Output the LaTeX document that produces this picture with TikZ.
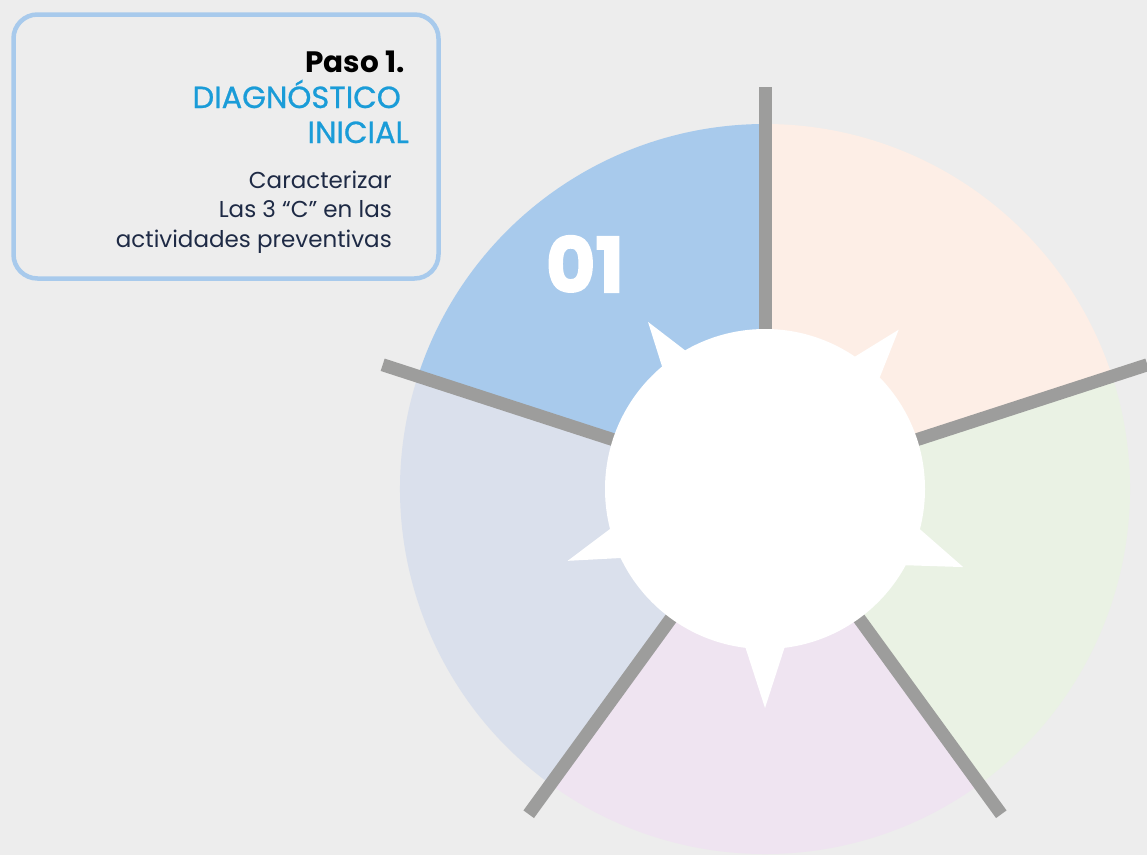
\documentclass[tikz,border=0pt]{standalone}
\usepackage{fontspec}
\setmainfont{Poppins}
\newfontfamily\medfont{Poppins}[FakeBold=0.8]
\newfontfamily\blackfont{Poppins}[FakeBold=2.2,BoldFont={Poppins Bold}]
\usepackage{xcolor}
\usepackage{tikz}
\usetikzlibrary{calc,positioning}

\begin{document}
\begin{tikzpicture}[x=1pt,y=1pt,
  sep line/.style={line width=13pt,draw=sepgray},
  caja/.style={draw=boxblue,line width=4.5pt,rounded corners=24pt},
  txt/.style={inner sep=0pt,anchor=base east}]
  \definecolor{bg}{HTML}{EDEDED}
  \definecolor{boxblue}{HTML}{A8CAEC}
  \definecolor{sepgray}{HTML}{9D9D9C}
  \definecolor{titblue}{HTML}{1A9CD8}
  \definecolor{dark}{HTML}{1E2A45}
  \colorlet{secA}{boxblue}
  \definecolor{secB}{HTML}{DAE0EC}
  \definecolor{secC}{HTML}{EFE4F1}
  \definecolor{secD}{HTML}{EAF2E4}
  \definecolor{secE}{HTML}{FDEEE6}
  \def\R{365}
  \coordinate (O) at (765,-489);
  % fondo
  \fill[bg] (0,0) rectangle (1147,-855);
  \useasboundingbox (0,0) rectangle (1147,-855);
  % sectores del circulo
  \foreach \a/\c in {90/secA,162/secB,234/secC,306/secD,18/secE}{
      \fill[\c] (O) -- ($(O)+(\a:\R)$) arc[start angle=\a,delta angle=72,radius=\R] -- cycle;
    }
  % separadores
  \foreach \a in {90,162,234,306,18}{
      \draw[sep line] ($(O)+(\a:150)$) -- ($(O)+(\a:402)$);
    }
  % centro blanco con puntas
  \node (centro) [circle,fill=white,minimum size=320pt,inner sep=0pt] at (O) {};
  \foreach \a/\w/\r in {125/5.5/204,50/6.3/208,-21.5/7.5/213,-90/7.5/219,200/6/210}{
      \fill[white] ($(O)+({\a-\w}:157)$) -- ($(O)+(\a:\r)$) -- ($(O)+({\a+\w}:157)$) -- cycle;
    }
  \node (num) [text=white,inner sep=0pt] at (585,-264) {\fontsize{76}{76}\selectfont\blackfont\bfseries 01};
  % recuadro del paso
  \draw[caja] (13.5,-14.5) rectangle (438.5,-278.5);
  \node (paso) [txt] at (405,-72) {\fontsize{29.5}{29.5}\selectfont\bfseries Paso 1.};
  \node (diag) [txt,text=titblue] at (401,-108) {\fontsize{30.5}{30.5}\selectfont\medfont DIAGNÓSTICO};
  \node (ini) [txt,text=titblue] at (409,-143) {\fontsize{30.5}{30.5}\selectfont\medfont INICIAL};
  \node (car) [txt,text=dark] at (392,-188) {\fontsize{23}{23}\selectfont Caracterizar};
  \node (las) [txt,text=dark] at (392,-217) {\fontsize{23}{23}\selectfont Las 3 “C” en las};
  \node (act) [txt,text=dark] at (392,-247) {\fontsize{23}{23}\selectfont actividades preventivas};
\end{tikzpicture}
\end{document}
